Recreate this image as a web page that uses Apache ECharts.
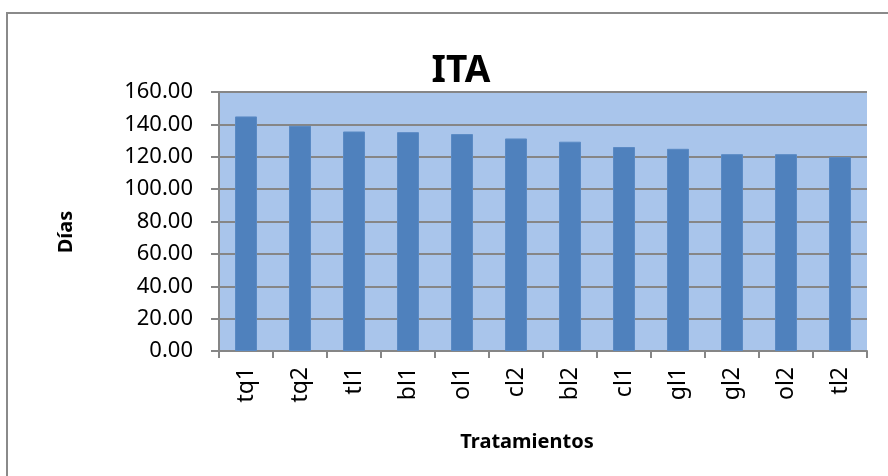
<!DOCTYPE html>
<html>
<head>
<meta charset="utf-8">
<script src="https://cdn.jsdelivr.net/npm/echarts@6/dist/echarts.min.js"></script>
<style>html,body{margin:0;padding:0;background:#fff}#c{width:888px;height:476px}</style>
</head>
<body>
<div id="c"></div>
<script>
const categories = ['tq1','tq2','tl1','bl1','ol1','cl2','bl2','cl1','gl1','gl2','ol2','tl2'];
const values = [144.9, 139.1, 135.6, 135.2, 134.0, 131.3, 129.3, 126.0, 124.9, 121.6, 121.6, 119.8];
const yTicks = [0, 20, 40, 60, 80, 100, 120, 140, 160];
const titleText = 'ITA';
const xName = 'Tratamientos';
const yName = 'Días';

const FONT = 'Noto Sans';
const chart = echarts.init(document.getElementById('c'), null, {renderer: 'canvas'});
chart.setOption({
  animation: false,
  backgroundColor: '#ffffff',
  title: {
    text: titleText, left: 456, top: 48, textAlign: 'center',
    textStyle: {fontFamily: FONT, fontWeight: 'bold', fontSize: 37, color: '#000'}
  },
  graphic: [{
    type: 'rect', shape: {x: 7, y: 13, width: 900, height: 480},
    style: {fill: 'none', stroke: '#8a8a8a', lineWidth: 2}, silent: true
  }, {
    type: 'text', x: 66, y: 232, rotation: Math.PI / 2,
    style: {text: yName, align: 'center', verticalAlign: 'middle',
      font: 'bold 20px "Noto Sans"', fill: '#000'}
  }, {
    type: 'text', x: 527, y: 442,
    style: {text: xName, align: 'center', verticalAlign: 'middle',
      font: 'bold 20px "Noto Sans"', fill: '#000'}
  }],
  grid: {
    left: 219, top: 92, right: 21, bottom: 125,
    show: true, backgroundColor: '#a9c5eb', borderWidth: 0
  },
  xAxis: {
    type: 'category', data: categories,
    axisLine: {lineStyle: {color: '#868686', width: 2}},
    axisTick: {show: true, length: 7, lineStyle: {color: '#868686', width: 2}},
    axisLabel: {rotate: 90, fontFamily: FONT, fontSize: 23, color: '#000', margin: 16}
  },
  yAxis: {
    type: 'value', min: yTicks[0], max: yTicks[yTicks.length - 1], interval: 20,
    axisLine: {show: true, lineStyle: {color: '#868686', width: 2}},
    axisTick: {show: true, length: 8, lineStyle: {color: '#868686', width: 2}},
    splitLine: {show: true, lineStyle: {color: '#868686', width: 2}},
    axisLabel: {fontFamily: FONT, fontSize: 22, color: '#000', margin: 26,
      formatter: v => v.toFixed(2)}
  },
  series: [{
    type: 'bar', data: values, barWidth: 22,
    itemStyle: {color: '#4f81bd', borderColor: '#5a8ac4', borderWidth: 1}
  }]
});
</script>
</body>
</html>
